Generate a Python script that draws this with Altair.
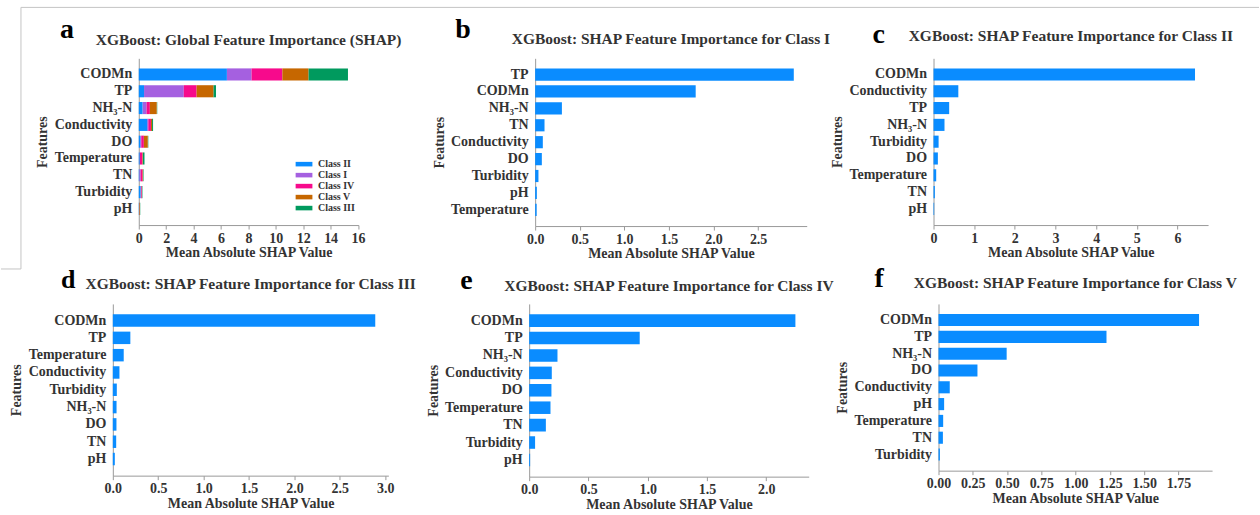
import altair as alt
import pandas as pd

# ---------------- data ----------------
features = ["CODMn", "TP", "NH₃-N", "Conductivity", "DO", "Temperature", "TN", "Turbidity", "pH"]
class_I = [1.80, 2.90, 0.30, 0.086, 0.075, 0.017, 0.105, 0.037, 0.019]
class_II = [6.43, 0.385, 0.27, 0.61, 0.107, 0.066, 0.033, 0.125, 0.016]
class_III = [2.89, 0.193, 0.041, 0.073, 0.040, 0.12, 0.037, 0.044, 0.022]
class_IV = [2.247, 0.933, 0.239, 0.191, 0.188, 0.18, 0.141, 0.05, 0.008]
class_V = [1.90, 1.225, 0.497, 0.082, 0.284, 0.034, 0.032, 0.01, 0.041]

stack_order = ["Class II", "Class I", "Class IV", "Class V", "Class III"]
stack_colors = ["#0A8CFF", "#A560E0", "#F70A8C", "#C66700", "#009A5E"]
class_values = {"Class I": class_I, "Class II": class_II, "Class III": class_III,
                "Class IV": class_IV, "Class V": class_V}

rows = []
for cls, vals in class_values.items():
    for f, v in zip(features, vals):
        rows.append({"feature": f, "cls": cls, "value": v, "ord": stack_order.index(cls)})
df = pd.DataFrame(rows)

FONT = "Liberation Serif"
TXT = "#333333"
AX = "#9a9a9a"
BLUE = "#0A8CFF"


def x_axis(values, fmt):
    return alt.Axis(values=values, format=fmt, title="Mean Absolute SHAP Value",
                    titleFont=FONT, titleFontSize=14, titleFontWeight="bold", titleColor=TXT,
                    labelFont=FONT, labelFontSize=14, labelFontWeight="bold", labelColor=TXT,
                    labelFlush=False, labelOverlap=False, labelPadding=2,
                    tickSize=4, tickColor=AX, domainColor=AX, grid=False, titlePadding=1)


def y_axis(off):
    kw = dict(title="Features", titleFont=FONT, titleFontSize=14, titleFontWeight="bold",
              titleColor=TXT, labelFont=FONT, labelFontSize=14, labelFontWeight="bold",
              labelColor=TXT, labelPadding=7, ticks=False, domainColor=AX, grid=False,
              minExtent=80, maxExtent=80, titlePadding=9)
    if off:
        kw["offset"] = -off
    return alt.Axis(**kw)


def panel(data, title, letter, lx, ly, lsize, off, plotw, h, tvals, fmt, ty,
          stacked=False, extra=None):
    xmax = (data.groupby("feature")["value"].sum().max()) * 1.05
    xscale = alt.Scale(domain=[0, xmax], nice=False, zero=True, range=[off, off + plotw])
    yscale = alt.Scale(paddingInner=0.28, paddingOuter=0.6)
    if stacked:
        bars = alt.Chart(data).mark_bar().encode(
            x=alt.X("sum(value):Q", scale=xscale, axis=x_axis(tvals, fmt), stack="zero"),
            y=alt.Y("feature:N", scale=yscale, axis=y_axis(off),
                    sort=alt.EncodingSortField(field="value", op="sum", order="descending")),
            color=alt.Color("cls:N", scale=alt.Scale(domain=stack_order, range=stack_colors),
                            legend=alt.Legend(title=None, orient="none", legendX=185.5,
                                              legendY=100, padding=0, labelFont=FONT,
                                              labelFontSize=10, labelFontWeight="bold",
                                              labelColor=TXT,
                                              symbolType="M-1.4,-0.38H1.4V0.38H-1.4Z",
                                              symbolSize=144, symbolStrokeWidth=0,
                                              labelOffset=8, rowPadding=0)),
            order=alt.Order("ord:Q", sort="ascending"),
        )
    else:
        bars = alt.Chart(data).mark_bar(color=BLUE).encode(
            x=alt.X("value:Q", scale=xscale, axis=x_axis(tvals, fmt)),
            y=alt.Y("feature:N", scale=yscale, axis=y_axis(off), sort="-x"),
        )
    lab = alt.Chart(pd.DataFrame({"t": [letter]})).mark_text(
        font=FONT, fontSize=lsize, fontWeight="bold", color="#000000",
        align="left", baseline="alphabetic").encode(
        text="t:N", x=alt.value(off + lx), y=alt.value(ly))
    ttl = alt.Chart(pd.DataFrame({"t": [title]})).mark_text(
        font=FONT, fontSize=15.5, fontWeight="bold", color=TXT,
        align="center", baseline="alphabetic").encode(
        text="t:N", x=alt.value(off + plotw / 2), y=alt.value(ty))
    layers = [bars, lab, ttl]
    if extra is not None:
        layers += extra
    return alt.layer(*layers).properties(width=off + plotw, height=h)


one = pd.DataFrame({"k": [0]})
frame_color = "#c4c4c4"
frame = [
    alt.Chart(one).mark_rule(color=frame_color, strokeWidth=1).encode(
        x=alt.value(-92), y=alt.value(-51), y2=alt.value(211)),
    alt.Chart(one).mark_rule(color=frame_color, strokeWidth=1).encode(
        x=alt.value(-92), x2=alt.value(1148), y=alt.value(-51)),
    alt.Chart(one).mark_rule(color=frame_color, strokeWidth=1).encode(
        x=alt.value(-112), x2=alt.value(-92), y=alt.value(211)),
]


def sub(cls):
    return df[df["cls"] == cls]


pa = panel(df, "XGBoost: Global Feature Importance (SHAP)", "a", -79, -20, 28,
           26, 220, 167, list(range(0, 17, 2)), "d", -13.5, stacked=True, extra=frame)
pb = panel(sub("Class I"), "XGBoost: SHAP Feature Importance for Class I", "b", -80, -20, 28,
           27, 272, 168, [0, 0.5, 1.0, 1.5, 2.0, 2.5], ".1f", -14)
pc = panel(sub("Class II"), "XGBoost: SHAP Feature Importance for Class II", "c", -61, -15, 28,
           5, 275, 167, [0, 1, 2, 3, 4, 5, 6], "d", -17)
pd_ = panel(sub("Class III"), "XGBoost: SHAP Feature Importance for Class III", "d", -52, -16, 26,
            0, 276, 172, [0, 0.5, 1.0, 1.5, 2.0, 2.5, 3.0], ".1f", -15)
pe = panel(sub("Class IV"), "XGBoost: SHAP Feature Importance for Class IV", "e", -69, -15, 28,
           21, 280, 173, [0, 0.5, 1.0, 1.5, 2.0], ".1f", -13)
pf = panel(sub("Class V"), "XGBoost: SHAP Feature Importance for Class V", "f", -64, -17, 28,
           10, 274, 167, [0, 0.25, 0.5, 0.75, 1.0, 1.25, 1.5, 1.75], ".2f", -16)

chart = alt.concat(pa, pb, pc, pd_, pe, pf, columns=3,
                   spacing={"row": 78, "column": 120}).properties(
    bounds="flush", align="each",
    padding={"left": 0, "top": 6, "right": 0, "bottom": 0},
    background="white",
).configure_view(stroke="transparent")

chart.save("out.html", embed_options={"renderer": "svg", "actions": False})
